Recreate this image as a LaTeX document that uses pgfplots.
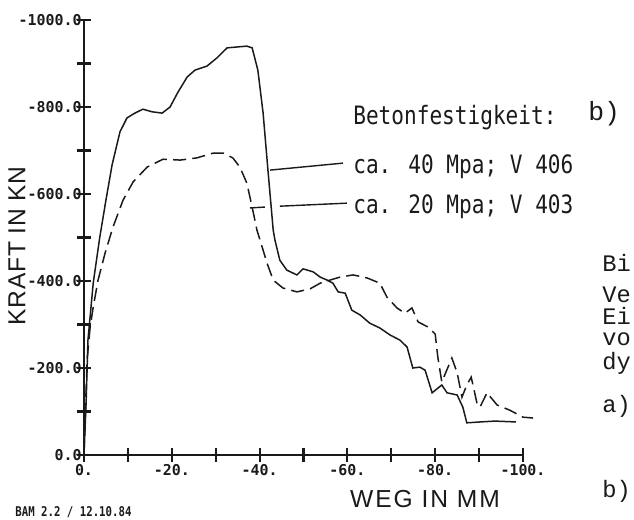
\documentclass[border=0pt]{standalone}
\usepackage{pgfplots}
\pgfplotsset{compat=1.18}
\usepackage{fontspec}
\newfontfamily\plotfont{DejaVu Sans Mono}
\newfontfamily\labfont{Liberation Sans}
\newfontfamily\courfont{Liberation Mono}
\definecolor{ink}{HTML}{1A1A1A}

\begin{document}
\begin{tikzpicture}
\useasboundingbox (0,0) rectangle (12.68,10.38);
\begin{axis}[
  at={(1.68cm,1.28cm)}, anchor=south west,
  scale only axis, width=8.78cm, height=8.70cm,
  x dir=reverse, y dir=reverse,
  xmin=-100, xmax=0, ymin=-1000, ymax=0,
  axis x line=bottom, axis y line=left,
  axis line style={-, line width=1.2pt, ink},
  xtick={0,-20,-40,-60,-80,-100},
  xticklabels={\mbox{0.},\mbox{-20.},\mbox{-40.},\mbox{-60.},\mbox{-80.},\mbox{-100.}},
  minor xtick={-10,-30,-50,-70,-90},
  ytick={0,-200,-400,-600,-800,-1000},
  yticklabels={\mbox{0.0},\mbox{-200.0},\mbox{-400.0},\mbox{-600.0},\mbox{-800.0},\mbox{-1000.0}},
  minor ytick={-100,-300,-500,-700,-900},
  tick align=center,
  major tick length=0.28cm, minor tick length=0.28cm,
  tick style={line width=1.2pt, ink},
  tick label style={font=\plotfont\bfseries\fontsize{8.5}{8.5}\selectfont, text=ink},
  yticklabel style={inner sep=0pt, xshift=0.1cm},
  xticklabel style={inner sep=0pt, yshift=-0.04cm},
  clip=false,
]
% V 406 (ca. 40 MPa) - solid
\addplot[ink, line width=0.85pt] coordinates {
(0,0) (-0.5,-126) (-0.9,-264) (-2.1,-395) (-3.6,-501) (-5.0,-586) (-6.4,-667) (-8.2,-743)
(-9.8,-775) (-11.6,-786) (-13.4,-795) (-15.5,-789) (-17.8,-786) (-19.6,-800)
(-21.4,-834) (-23.5,-869) (-25.3,-885) (-28.0,-894) (-30.3,-913) (-32.6,-936)
(-34.9,-938) (-37.1,-940) (-38.3,-936) (-39.6,-885) (-40.8,-786) (-41.9,-655)
(-43.1,-517) (-43.5,-494) (-44.6,-448) (-46.2,-425) (-48.5,-414) (-49.9,-428)
(-52.2,-421) (-53.8,-409) (-55.4,-402) (-56.7,-395) (-57.9,-375) (-59.5,-372)
(-61.0,-333) (-62.9,-322) (-65.1,-303) (-67.4,-292) (-69.7,-276) (-72.0,-264)
(-73.6,-248) (-74.9,-200) (-76.5,-202) (-77.7,-195) (-79.3,-143) (-81.5,-161)
(-82.7,-143) (-85.0,-138) (-86.3,-110) (-87.2,-74) (-90.2,-76) (-93.6,-78) (-98.4,-76)
};
% V 403 (ca. 20 MPa) - dashed
\addplot[ink, line width=0.85pt, dash pattern=on 7.5pt off 3.5pt] coordinates {
(0,0) (-0.7,-218) (-1.4,-294) (-2.1,-340) (-3.2,-402) (-4.8,-464) (-6.6,-524)
(-8.9,-586) (-11.2,-628) (-14.4,-662) (-18.0,-680) (-21.9,-678) (-25.7,-683)
(-29.4,-694) (-31.7,-694) (-33.9,-683) (-35.5,-662) (-37.1,-625) (-38.3,-570)
(-39.4,-517) (-40.1,-494) (-41.7,-441) (-43.1,-402) (-45.3,-384) (-48.5,-375)
(-51.5,-382) (-53.8,-395) (-56.0,-402) (-58.3,-409) (-61.3,-414) (-64.5,-407)
(-67.4,-395) (-69.0,-363) (-71.3,-338) (-73.1,-326) (-74.7,-338) (-76.1,-306)
(-78.4,-294) (-80.0,-278) (-80.6,-225) (-81.5,-168) (-83.8,-223) (-85.0,-189)
(-86.1,-133) (-87.2,-161) (-88.2,-179) (-89.5,-120) (-90.2,-110) (-91.8,-143)
(-94.1,-115) (-97.0,-103) (-100.0,-87) (-102.3,-85)
};
% leader lines
\draw[ink, line width=0.8pt] (axis cs:-42.4,-655) -- (axis cs:-59.0,-671);
\draw[ink, line width=0.8pt] (axis cs:-37.8,-568) -- (axis cs:-41.2,-570);
\draw[ink, line width=0.8pt] (axis cs:-44.6,-572) -- (axis cs:-59.9,-579);
\end{axis}
% legend texts
\node[anchor=base west, inner sep=0, text=ink, font=\plotfont\fontsize{12}{12}\selectfont] at (7.06,7.90) {\scalebox{1}[1.2]{Betonfestigkeit:}};
\node[anchor=base west, inner sep=0, text=ink, font=\plotfont\fontsize{12}{12}\selectfont] at (7.06,6.92) {\scalebox{1}[1.2]{ca. 40 Mpa; V 406}};
\node[anchor=base west, inner sep=0, text=ink, font=\plotfont\fontsize{12}{12}\selectfont] at (7.06,6.12) {\scalebox{1}[1.2]{ca. 20 Mpa; V 403}};
% axis labels
\node[anchor=center, inner sep=0, text=ink, font=\labfont\addfontfeature{LetterSpace=8}\fontsize{14}{14}\selectfont] at (8.50,0.40) {WEG IN MM};
\node[anchor=center, inner sep=0, rotate=90, text=ink, font=\labfont\addfontfeature{LetterSpace=3}\fontsize{14}{14}\selectfont] at (0.34,5.46) {KRAFT IN KN};
% footer
\node[anchor=base west, inner sep=0, text=ink, font=\plotfont\bfseries\fontsize{6.1}{6.1}\selectfont] at (0.30,0.06) {\scalebox{1}[1.25]{BAM 2.2 / 12.10.84}};
% page text at right
\node[anchor=base west, inner sep=0, text=ink, font=\courfont\fontsize{15}{15}\selectfont] at (11.76,7.98) {b)};
\node[anchor=base west, inner sep=0, text=ink, font=\courfont\fontsize{13.5}{13.5}\selectfont] at (12.04,4.96) {Bi};
\node[anchor=base west, inner sep=0, text=ink, font=\courfont\fontsize{13.5}{13.5}\selectfont] at (12.04,4.33) {Ve};
\node[anchor=base west, inner sep=0, text=ink, font=\courfont\fontsize{13.5}{13.5}\selectfont] at (12.04,3.89) {Ei};
\node[anchor=base west, inner sep=0, text=ink, font=\courfont\fontsize{13.5}{13.5}\selectfont] at (12.04,3.47) {vo};
\node[anchor=base west, inner sep=0, text=ink, font=\courfont\fontsize{13.5}{13.5}\selectfont] at (12.04,3.00) {dy};
\node[anchor=base west, inner sep=0, text=ink, font=\courfont\fontsize{13.5}{13.5}\selectfont] at (12.04,2.14) {a)};
\node[anchor=base west, inner sep=0, text=ink, font=\courfont\fontsize{13.5}{13.5}\selectfont] at (12.04,0.44) {b)};
\end{tikzpicture}
\end{document}
